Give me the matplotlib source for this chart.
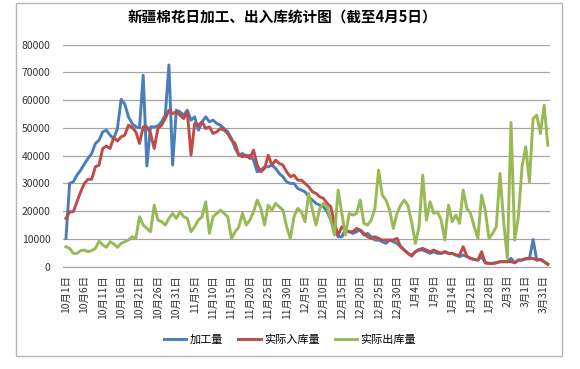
import numpy as np
import matplotlib
matplotlib.use("Agg")
import matplotlib.pyplot as plt
from matplotlib.patches import Rectangle

plt.rcParams['font.family'] = ['Noto Sans CJK SC', 'DejaVu Sans']

title = "新疆棉花日加工、出入库统计图（截至4月5日）"
series_names = ["加工量", "实际入库量", "实际出库量"]

tick_labels = ["10月1日", "10月6日", "10月11日", "10月16日", "10月21日", "10月26日",
               "10月31日", "11月5日", "11月10日", "11月15日", "11月20日", "11月25日",
               "11月30日", "12月5日", "12月10日", "12月15日", "12月20日", "12月25日",
               "12月30日", "1月4日", "1月9日", "1月14日", "1月21日", "1月28日",
               "2月3日", "3月1日", "3月31日"]

# 加工量
jiagong = [10200, 30000, 30600, 33000, 34800, 37000, 39000, 40800, 44400, 45600,
           48600, 49200, 47400, 46200, 49800, 60300, 58600, 54000, 51600, 50400,
           50000, 69000, 36300, 50400, 50400, 50700, 52200, 54600, 72700, 36600,
           56400, 55800, 54600, 56400, 52800, 54000, 49200, 52200, 54000, 52200,
           52800, 51600, 51000, 49800, 48600, 46200, 42600, 40200, 40800, 39600,
           40200, 38400, 34200, 34800, 36000, 36000, 36600, 35400, 33600, 32400,
           30600, 30000, 30000, 28200, 27600, 27000, 25200, 24000, 22800, 22200,
           21600, 19800, 16800, 13800, 10800, 10800, 13200, 12600, 12000, 12600,
           13200, 11400, 12000, 10800, 9600, 9600, 9000, 8400, 9600, 9000,
           8400, 7200, 6000, 4800, 4200, 5400, 6000, 6000, 5400, 4800,
           5400, 4800, 4800, 5400, 4800, 4800, 4200, 3600, 4200, 3600,
           3000, 2600, 2400, 3600, 1400, 1200, 1200, 1400, 1800, 1800,
           1800, 3000, 1400, 2400, 2400, 2800, 2800, 9800, 2400, 2600,
           1800, 1000]

# 实际入库量
ruku = [17400, 19800, 19800, 23400, 27000, 30000, 31500, 31500, 36000, 36600,
        42600, 43500, 42600, 46600, 45300, 46800, 47400, 51000, 50200, 48600,
        44400, 50400, 50400, 48000, 42600, 49800, 51000, 53400, 56400, 55200,
        55800, 54600, 53400, 55800, 40200, 51600, 51000, 52200, 49800, 50400,
        48000, 48600, 49800, 49200, 48000, 45600, 44400, 40200, 39600, 40200,
        39000, 42000, 36600, 34200, 35400, 40200, 36600, 38400, 37200, 36600,
        34200, 32400, 33000, 31200, 31200, 30000, 28800, 27000, 26400, 25200,
        24600, 22800, 21600, 15600, 11400, 14400, 13200, 12600, 12600, 13800,
        13200, 12000, 10800, 10200, 10800, 10200, 9600, 9600, 9600, 9600,
        10200, 7200, 6000, 4800, 3800, 5400, 6200, 6600, 6000, 5400,
        6000, 5400, 4800, 5400, 4800, 4800, 4200, 4200, 7200, 3800,
        3000, 2600, 2400, 5400, 1400, 1200, 1200, 1400, 1800, 1800,
        1800, 1800, 1400, 2400, 2400, 3000, 3000, 3000, 2400, 2600,
        1800, 800]

# 实际出库量
chuku = [7200, 6600, 4800, 4800, 5800, 6000, 5400, 5800, 6600, 9200,
         7800, 7000, 9000, 8200, 7000, 8400, 9000, 9600, 10800, 10200,
         18000, 15000, 13800, 12600, 22200, 16800, 16200, 15000, 17400, 19200,
         17400, 19800, 18000, 17400, 12600, 14400, 16800, 18000, 23400, 12000,
         18000, 19200, 20400, 19200, 18000, 10200, 12600, 14400, 19200, 15000,
         16800, 19800, 24000, 21000, 15000, 22200, 20400, 22800, 21600, 20400,
         14400, 10200, 18000, 21000, 19800, 16200, 26400, 20400, 15000, 21000,
         22800, 21600, 16800, 11400, 27600, 19200, 11400, 19200, 18600, 19200,
         24000, 15600, 15000, 16800, 21000, 34800, 25800, 24000, 20400, 13800,
         19200, 22200, 24000, 22000, 16000, 8400, 14400, 33000, 16800, 23400,
         19200, 19800, 16800, 9600, 22200, 16200, 18600, 15600, 27600, 21000,
         19200, 14400, 10200, 25800, 20400, 10200, 12000, 14400, 33600, 16200,
         3000, 52000, 9600, 18000, 36000, 43200, 30600, 53400, 54600, 48000,
         58200, 43800]

W, H = 580, 369
fig = plt.figure(figsize=(W / 100, H / 100), dpi=100)
ax = fig.add_axes([63 / W, 1 - 266.7 / H, 487 / W, 222 / H])

x = np.arange(len(jiagong))
ax.plot(x, jiagong, color='#4A7EBB', lw=2.1, label=series_names[0])
ax.plot(x, ruku, color='#BE4B48', lw=2.1, label=series_names[1])
ax.plot(x, chuku, color='#98B954', lw=2.1, label=series_names[2])

ax.set_xlim(-0.8, len(x) - 0.4)
ax.set_ylim(0, 80000)
ax.set_yticks(range(0, 80001, 10000))
ax.yaxis.grid(True, color='#a6a6a6', lw=0.9)
ax.set_axisbelow(True)
for s in ['left', 'right', 'top']:
    ax.spines[s].set_visible(False)
ax.spines['bottom'].set_color('#a6a6a6')
ax.tick_params(axis='y', length=0, pad=9, labelsize=7.5, labelcolor='#333333')
ax.set_xticks(x[::5])
ax.set_xticklabels(tick_labels, rotation=90, fontsize=7.5, color='#333333')
ax.tick_params(axis='x', length=0, pad=6)

fig.text(0.487, 1 - 18 / H, title, ha='center', va='center', fontsize=10.5, weight='bold')

fig.legend(loc='center', bbox_to_anchor=(0.5, 1 - 340 / H), ncol=3, frameon=False,
           fontsize=8, handlelength=2.0, columnspacing=1.4, handletextpad=0.3)

fig.add_artist(Rectangle((16 / W, 1 - 356 / H), 546 / W, 353 / H, transform=fig.transFigure,
                         fill=False, ec='#b4b4b4', lw=1))

fig.savefig('out.png', dpi=100)
